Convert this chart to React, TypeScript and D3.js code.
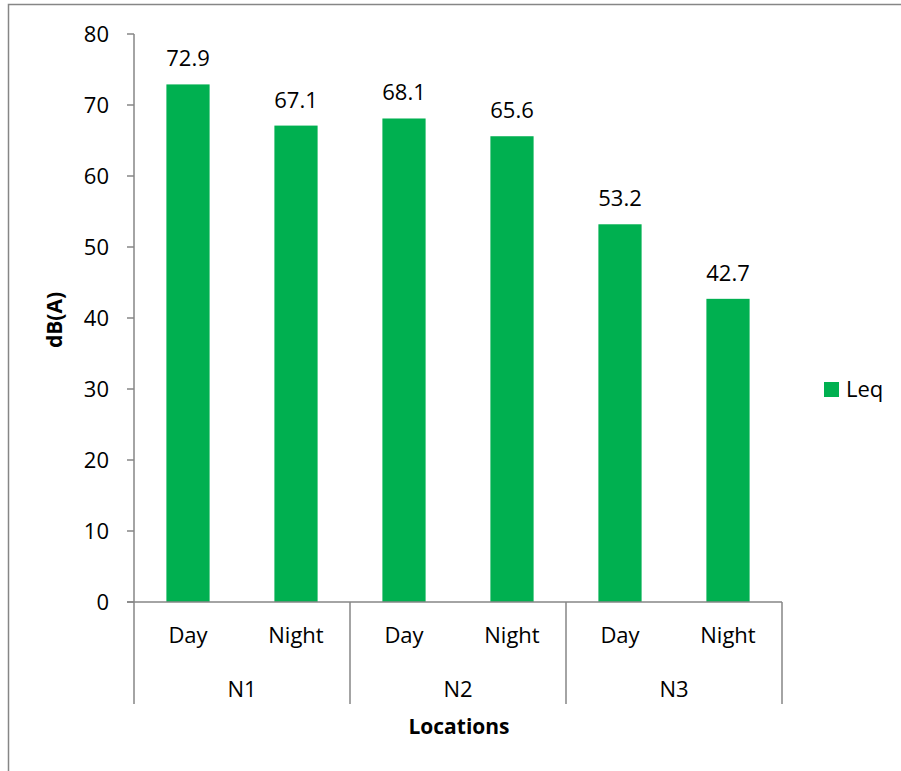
import React from "react";
import * as d3 from "d3";

const groups = ["N1", "N2", "N3"];
const periods = ["Day", "Night"];
const values = [72.9, 67.1, 68.1, 65.6, 53.2, 42.7];
const yTicks = [0, 10, 20, 30, 40, 50, 60, 70, 80];
const seriesName = "Leq";

const W = 901, H = 771;
const left = 134, right = 782, top = 34, bottom = 602;
const font = "'Open Sans', sans-serif";
const axisColor = "#868686";
const barColor = "#00B050";
const fs = 22;

export default function App() {
  const cats = groups.flatMap((g) => periods.map((p) => `${g}-${p}`));
  const x = d3.scaleBand().domain(cats).range([left, right]).paddingInner(0.6).paddingOuter(0.3);
  const xOuter = d3.scaleBand().domain(cats).range([left, right]);
  const y = d3.scaleLinear().domain([0, 80]).range([bottom, top]);
  const gx = d3.scaleBand().domain(groups).range([left, right]);
  const sepBottom = 704;

  return (
    <svg width={W} height={H} style={{ position: "absolute", left: 0, top: 0 }} fontFamily={font}>
      <rect x={0} y={0} width={W} height={H} fill="#fff" />
      <rect x={8.5} y={4.5} width={W + 10} height={H + 10} fill="none" stroke={axisColor} strokeWidth={1.5} />
      {/* bars */}
      {cats.map((c, i) => (
        <g key={c}>
          <rect x={x(c)!} y={y(values[i])} width={x.bandwidth()} height={y(0) - y(values[i])} fill={barColor} />
          <text x={x(c)! + x.bandwidth() / 2} y={y(values[i]) - 18} textAnchor="middle" fontSize={fs} fill="#000">
            {values[i].toFixed(1)}
          </text>
        </g>
      ))}
      {/* y axis */}
      <line x1={left} x2={left} y1={top} y2={sepBottom} stroke={axisColor} strokeWidth={1.5} />
      {yTicks.map((t) => (
        <g key={t}>
          <line x1={left - 7} x2={left} y1={y(t)} y2={y(t)} stroke={axisColor} strokeWidth={1.5} />
          <text x={left - 25} y={y(t) + 8} textAnchor="end" fontSize={fs} fill="#000">{t}</text>
        </g>
      ))}
      {/* x axis */}
      <line x1={left - 7} x2={right} y1={bottom} y2={bottom} stroke={axisColor} strokeWidth={1.5} />
      {groups.map((g) => (
        <line key={g} x1={gx(g)! + gx.bandwidth()} x2={gx(g)! + gx.bandwidth()} y1={bottom} y2={sepBottom} stroke={axisColor} strokeWidth={1.5} />
      ))}
      {cats.map((c, i) => (
        <text key={c} x={xOuter(c)! + xOuter.bandwidth() / 2} y={643} textAnchor="middle" fontSize={fs} fill="#000">
          {periods[i % periods.length]}
        </text>
      ))}
      {groups.map((g) => (
        <text key={g} x={gx(g)! + gx.bandwidth() / 2} y={697} textAnchor="middle" fontSize={fs} fill="#000">{g}</text>
      ))}
      <text x={(left + right) / 2 + 1} y={734} textAnchor="middle" fontSize={21} fontWeight="bold" fill="#000">Locations</text>
      <text transform={`translate(62, ${(top + bottom) / 2 + 2}) rotate(-90)`} textAnchor="middle" fontSize={21} fontWeight="bold" fill="#000">dB(A)</text>
      {/* legend */}
      <rect x={824} y={382} width={15} height={15} fill={barColor} />
      <text x={846} y={397} fontSize={fs} fill="#000">{seriesName}</text>
    </svg>
  );
}
